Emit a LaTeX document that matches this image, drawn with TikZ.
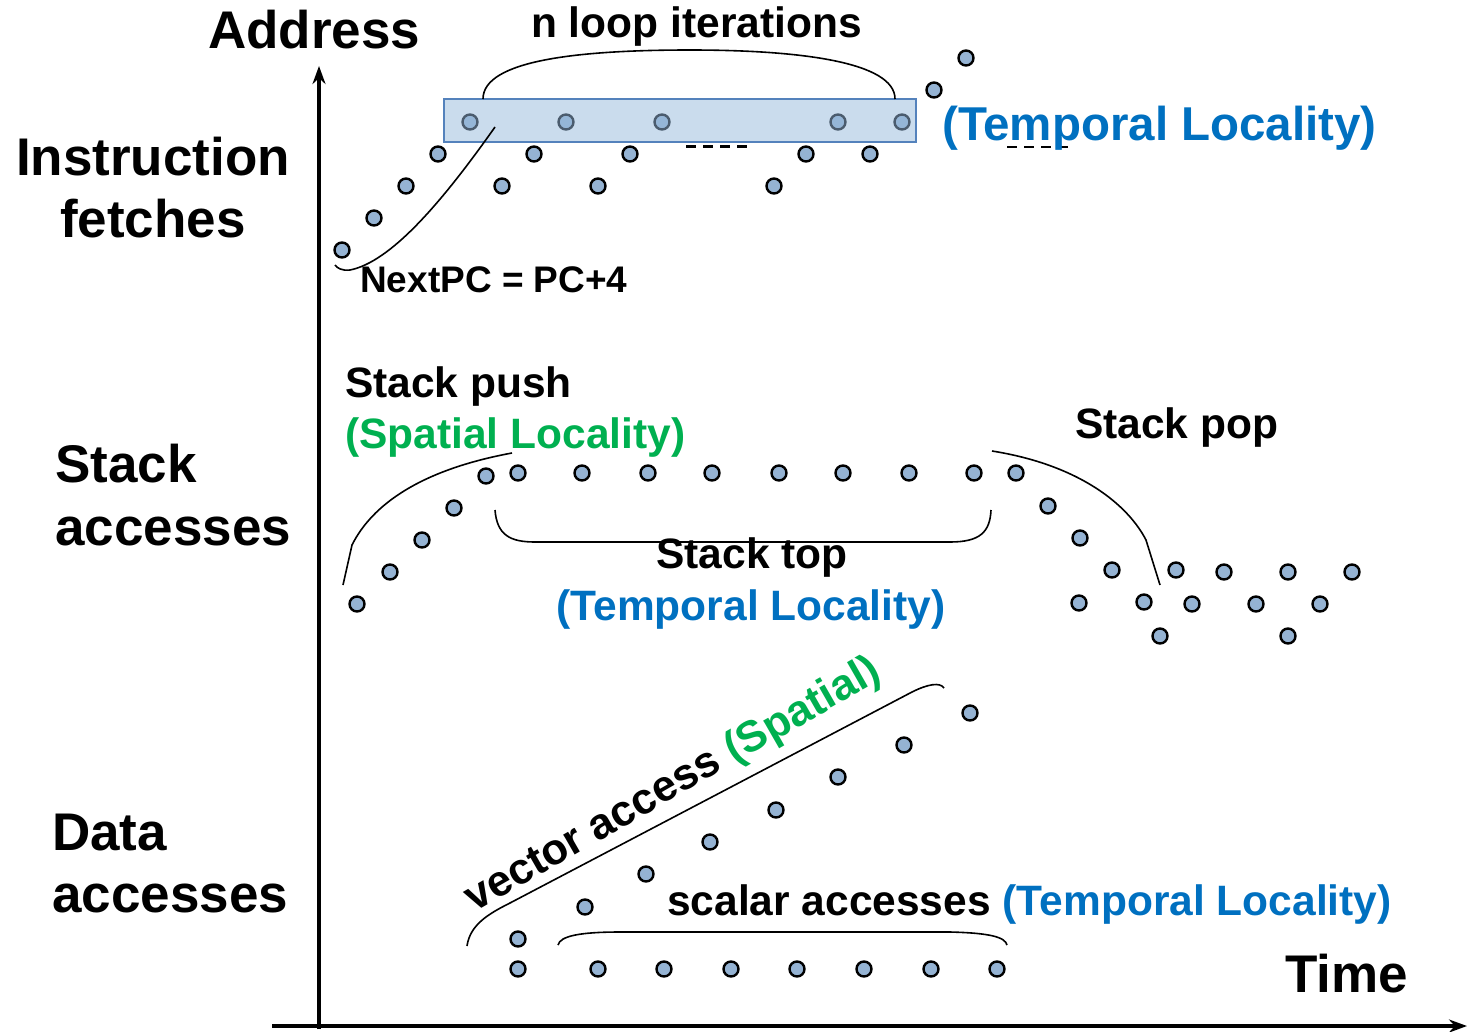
\documentclass[tikz,border=0pt]{standalone}
\usepackage{fontspec}
\setmainfont{Liberation Sans}
\usetikzlibrary{arrows.meta}
\definecolor{dotfill}{RGB}{149,179,211}
\definecolor{tempblue}{RGB}{0,112,192}
\definecolor{spatgreen}{RGB}{0,176,80}
\definecolor{loopfill}{RGB}{150,185,220}
\definecolor{loopedge}{RGB}{84,130,188}
\tikzset{
  dot/.style={draw, circle, fill=dotfill, line width=2.4pt, minimum size=15pt, inner sep=0pt},
  big/.style={font=\fontsize{53}{60}\selectfont\bfseries, inner sep=0pt, anchor=base west},
  mid/.style={font=\fontsize{42.5}{48}\selectfont\bfseries, inner sep=0pt, anchor=base west},
  brace/.style={draw, line width=1.6pt},
}
\begin{document}
\begin{tikzpicture}[x=1pt, y=-1pt]
\useasboundingbox (0,0) rectangle (1467,1031);
% axes
\coordinate (ybot) at (319,1029);
\coordinate (ytop) at (319,66);
\coordinate (xleft) at (272,1026);
\coordinate (xright) at (1467,1026);
\path[draw,line width=4.5pt,-{Stealth[length=18pt,width=13pt]}] (ybot) -- (ytop);
\path[draw,line width=4.5pt,-{Stealth[length=18pt,width=13pt]}] (xleft) -- (xright);
% instruction fetches
\foreach \x/\y [count=\i] in {342/250,374/218,406/186,438/154,470/122,502/186,534/154,566/122,
  598/186,630/154,662/122,774/186,806/154,838/122,870/154,902/122,934/90,966/58}
  \node[dot] (f\i) at (\x,\y) {};
\node[draw=loopedge, line width=2pt, fill=loopfill, fill opacity=0.5, rectangle,
  minimum width=472pt, minimum height=43pt, inner sep=0pt] (loop) at (680,120.5) {};
\coordinate (dashA) at (686,146);
\coordinate (dashB) at (752,146);
\path[draw,line width=3pt,dash pattern=on 10pt off 7pt] (dashA) -- (dashB);
\coordinate (dashC) at (1007,147);
\coordinate (dashD) at (1072,147);
\path[draw,line width=2.2pt,dash pattern=on 10pt off 7pt] (dashC) -- (dashD);
\path[brace] (483,99) .. controls (483,60) and (580,50) .. (690,50)
  .. controls (800,50) and (895,62) .. (895,99);
\path[brace] (495,127) .. controls (440,205) and (390,262) .. (350,270)
  .. controls (342,271) and (337,268) .. (335,265);
% stack accesses
\foreach \x/\y [count=\i] in {357/604,390/572,422/540,454/508,486/476,518/473,582/473,648/473,
  712/473,779/473,843/473,909/473,974/473,1016/473,1048/506,1080/538,1112/570,1079/603,
  1144/602,1160/636,1176/570,1192/604,1224/572,1256/604,1288/572,1288/636,1320/604,1352/572}
  \node[dot] (s\i) at (\x,\y) {};
\path[brace] (343,585) -- (352,545) .. controls (372,505) and (420,470) .. (512,453);
\path[brace] (495,510) .. controls (497,535) and (510,542) .. (535,542) -- (950,542)
  .. controls (980,542) and (990,532) .. (991,510);
\path[brace] (992,451) .. controls (1080,465) and (1128,505) .. (1146,540) -- (1160,585);
% data accesses
\foreach \x/\y [count=\i] in {518/939,585/907,646/874,710/842,776/810,838/777,904/745,970/713,
  518/969,598/969,664/969,731/969,797/969,864/969,931/969,997/969}
  \node[dot] (d\i) at (\x,\y) {};
\path[brace] (467,946) .. controls (470,925) and (488,914) .. (510,903) -- (912,692)
  .. controls (928,684) and (940,682) .. (944,688);
\path[brace] (558,945) .. controls (560,936) and (580,932) .. (620,932) -- (950,932)
  .. controls (990,933) and (1005,937) .. (1007,945);
% labels
\node[big] (addr) at (208,48) {Address};
\node[big, anchor=base] (instr1) at (153,175) {Instruction};
\node[big, anchor=base] (instr2) at (153,237) {fetches};
\node[big] (stack1) at (55,482) {Stack};
\node[big] (stack2) at (55,545) {accesses};
\node[big] (data1) at (52,850) {Data};
\node[big] (data2) at (52,912) {accesses};
\node[big] (time) at (1285,992) {Time};
\node[mid] (loopLbl) at (531,37) {n loop iterations};
\node[mid, font=\fontsize{47.5}{54}\selectfont\bfseries, text=tempblue] (tempTop) at (942,140) {(Temporal Locality)};
\node[mid, font=\fontsize{37}{44}\selectfont\bfseries] (nextpc) at (360,292) {NextPC = PC+4};
\node[mid] (push) at (345,397) {Stack push};
\node[mid, text=spatgreen] (pushLoc) at (345,448) {(Spatial Locality)};
\node[mid] (pop) at (1075,438) {Stack pop};
\node[mid, anchor=base] (top) at (752,568) {Stack top};
\node[mid, anchor=base, text=tempblue] (topLoc) at (751,620) {(Temporal Locality)};
\node[mid] (scalar) at (667,915) {scalar accesses \textcolor{tempblue}{(Temporal Locality)}};
\node[mid, font=\fontsize{43.5}{48}\selectfont\bfseries, rotate=29.8] (vector) at (474,913) {vector access \textcolor{spatgreen}{(Spatial)}};
\end{tikzpicture}
\end{document}
